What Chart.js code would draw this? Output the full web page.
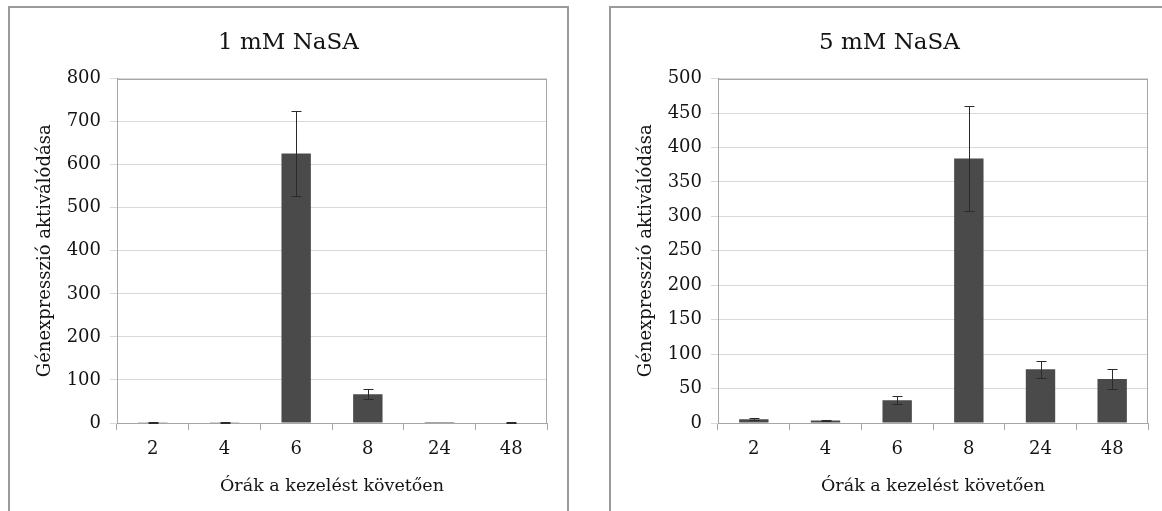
<!DOCTYPE html>
<html>
<head>
<meta charset="utf-8">
<script src="https://cdn.jsdelivr.net/npm/chart.js@4.4.0/dist/chart.umd.min.js"></script>
<style>
  html, body { margin: 0; padding: 0; background: #fff; overflow: hidden; }
  body { width: 1162px; height: 511px; position: relative; }
  .frame { position: absolute; top: 6px; height: 530px; border: 2px solid #9a9a9a; box-sizing: border-box; }
  canvas { position: absolute; }
</style>
</head>
<body>
<div class="frame" style="left:8px; width:561px;"></div>
<div class="frame" style="left:609px; width:600px;"></div>
<canvas id="c1" width="557" height="503" style="left:10px; top:8px;"></canvas>
<canvas id="c2" width="551" height="503" style="left:611px; top:8px;"></canvas>
<script>
// Hours after treatment (category axis)
const hours = ['2', '4', '6', '8', '24', '48'];

// 1 mM NaSA: mean expression and error
const expr1mM = [1.5, 1.5, 626, 67, 0.2, 1];
const err1mM  = [0.5, 0.5, 98, 12, 0, 1];

// 5 mM NaSA: mean expression and error
const expr5mM = [5.5, 3.5, 33, 384, 78, 64];
const err5mM  = [1.5, 0.8, 6, 76, 12, 15];

// Value axis ranges
const yMax1mM = 800, yStep1mM = 100;
const yMax5mM = 500, yStep5mM = 50;

const FONT = 'DejaVu Serif';
const TEXT = '#141414';

// Frame around the plot area
const plotFrame = {
  id: 'plotFrame',
  beforeDatasetsDraw(chart) {
    const a = chart.chartArea, ctx = chart.ctx;
    ctx.save();
    ctx.strokeStyle = '#a6a6a6';
    ctx.lineWidth = 1;
    ctx.strokeRect(Math.round(a.left) + 0.5, Math.round(a.top) + 0.5,
                   Math.round(a.right - a.left) - 1, Math.round(a.bottom - a.top));
    ctx.restore();
  }
};

// Error bars with caps, placed through the chart's scales
const errorBars = {
  id: 'errorBars',
  afterDatasetsDraw(chart, args, opts) {
    const ctx = chart.ctx;
    const meta = chart.getDatasetMeta(0);
    const y = chart.scales.y;
    const vals = chart.data.datasets[0].data;
    const errs = opts.errors || [];
    ctx.save();
    ctx.strokeStyle = '#2a2a2a';
    ctx.lineWidth = 1;
    meta.data.forEach((bar, i) => {
      const e = errs[i];
      if (!e) return;
      const x = Math.round(bar.x) + 0.5;
      const yt = Math.round(y.getPixelForValue(vals[i] + e)) + 0.5;
      const yb = Math.round(y.getPixelForValue(Math.max(vals[i] - e, 0))) + 0.5;
      const cap = 5;
      ctx.beginPath();
      ctx.moveTo(x, yt); ctx.lineTo(x, yb);
      ctx.moveTo(x - cap, yt); ctx.lineTo(x + cap, yt);
      ctx.moveTo(x - cap, yb); ctx.lineTo(x + cap, yb);
      ctx.stroke();
    });
    ctx.restore();
  }
};

function makeChart(id, title, values, errors, yMax, yStep, padRight) {
  return new Chart(document.getElementById(id), {
    type: 'bar',
    data: {
      labels: hours,
      datasets: [{
        data: values,
        backgroundColor: '#4a4a4a',
        borderWidth: 0,
        categoryPercentage: 1,
        barPercentage: 0.41
      }]
    },
    plugins: [plotFrame, errorBars],
    options: {
      responsive: false,
      animation: false,
      devicePixelRatio: 1,
      layout: { padding: { left: 20, right: padRight, top: 0, bottom: 0 } },
      plugins: {
        legend: { display: false },
        tooltip: { enabled: false },
        title: {
          display: true,
          text: title,
          color: TEXT,
          font: { family: FONT, size: 23, weight: 'normal' },
          padding: { top: 21, bottom: 22 }
        },
        errorBars: { errors: errors }
      },
      scales: {
        x: {
          grid: {
            display: true,
            drawOnChartArea: false,
            drawTicks: true,
            tickLength: 7,
            color: '#a6a6a6',
            offset: true
          },
          border: { display: true, color: '#a6a6a6' },
          ticks: { color: TEXT, font: { family: FONT, size: 18 }, padding: 9 },
          title: {
            display: true,
            text: 'Órák a kezelést követően',
            color: TEXT,
            font: { family: FONT, size: 17.5 },
            padding: { top: 4, bottom: 14 }
          },
          afterFit(scale) { scale.height = 88; }
        },
        y: {
          min: 0,
          max: yMax,
          grid: { color: '#d9d9d9', tickLength: 7, drawTicks: true },
          border: { display: true, color: '#a6a6a6' },
          ticks: { stepSize: yStep, color: TEXT, font: { family: FONT, size: 18 }, padding: 9 },
          title: {
            display: true,
            text: 'Génexpresszió aktiválódása',
            color: TEXT,
            font: { family: FONT, size: 18 },
            padding: { top: 5, bottom: 4 }
          },
          afterFit(scale) { scale.width = 87; }
        }
      }
    }
  });
}

makeChart('c1', '1 mM NaSA', expr1mM, err1mM, yMax1mM, yStep1mM, 20);
makeChart('c2', '5 mM NaSA', expr5mM, err5mM, yMax5mM, yStep5mM, 14);
</script>
</body>
</html>
